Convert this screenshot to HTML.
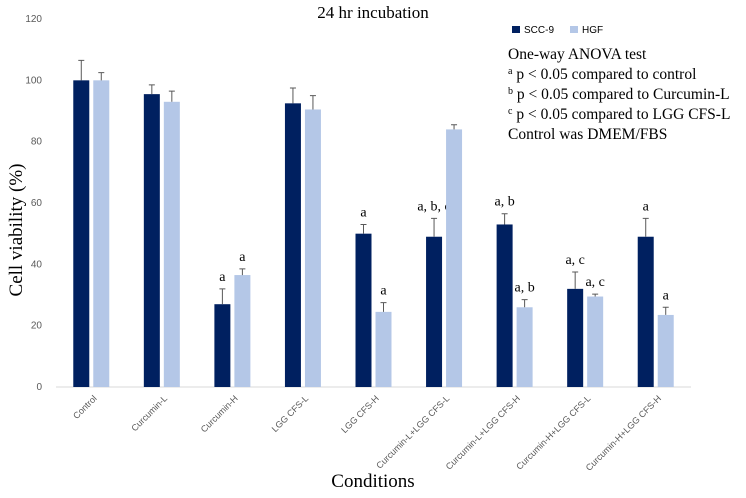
<!DOCTYPE html>
<html><head><meta charset="utf-8"><style>
body{margin:0;background:#fff;}
svg text{font-family:"Liberation Serif",serif;}
.s{font-family:"Liberation Sans",sans-serif;}
</style></head><body>
<svg id="c" width="746" height="493">
<text x="373" y="18" text-anchor="middle" font-size="17">24 hr incubation</text>
<rect x="512" y="26" width="8" height="7" fill="#002060"/>
<text x="524" y="33" font-size="10" class="s">SCC-9</text>
<rect x="570" y="26" width="8" height="7" fill="#b4c7e7"/>
<text x="582" y="33" font-size="10" class="s">HGF</text>
<g font-size="15.5">
<text x="508" y="59">One-way ANOVA test</text>
<text x="508" y="79"><tspan font-size="10" dy="-5">a</tspan><tspan dy="5"> p &lt; 0.05 compared to control</tspan></text>
<text x="508" y="99"><tspan font-size="10" dy="-5">b</tspan><tspan dy="5"> p &lt; 0.05 compared to Curcumin-L</tspan></text>
<text x="508" y="119"><tspan font-size="10" dy="-5">c</tspan><tspan dy="5"> p &lt; 0.05 compared to LGG CFS-L</tspan></text>
<text x="508" y="139">Control was DMEM/FBS</text>
</g>
<text transform="translate(22,230) rotate(-90)" text-anchor="middle" font-size="19">Cell viability (%)</text>
<text x="373" y="487" text-anchor="middle" font-size="19">Conditions</text>
</svg>
<script>
const categories=["Control","Curcumin-L","Curcumin-H","LGG CFS-L","LGG CFS-H","Curcumin-L+LGG CFS-L","Curcumin-L+LGG CFS-H","Curcumin-H+LGG CFS-L","Curcumin-H+LGG CFS-H"];
const scc9=[100,95.5,27,92.5,50,49,53,32,49];
const scc9Err=[6.5,3,5,5,3,6,3.5,5.5,6];
const hgf=[100,93,36.5,90.5,24.5,84,26,29.5,23.5];
const hgfErr=[2.5,3.5,2,4.5,3,1.5,2.5,0.8,2.5];
const scc9Sig=["","","a","","a","a, b, c","a, b","a, c","a"];
const hgfSig=["","","a","","a","","a, b","a, c","a"];
const yTicks=[0,20,40,60,80,100,120];
const svg=document.getElementById('c');const NS='http://www.w3.org/2000/svg';
const x0=56,x1=691,y0=387,y120=19;
const Y=v=>y0-(v/120)*(y0-y120);
const bw=(x1-x0)/categories.length;
const cx=i=>x0+bw*(i+0.5);
function mk(t,a){const e=document.createElementNS(NS,t);for(const k in a)e.setAttribute(k,a[k]);svg.appendChild(e);return e;}
yTicks.forEach(v=>{const t=mk('text',{x:42,y:Y(v)+3,'text-anchor':'end','font-size':10,fill:'#595959',class:'s'});t.textContent=v;

});
const ax=mk('line',{x1:x0,x2:x1,y1:y0,y2:y0,stroke:'#d9d9d9','stroke-width':1});


function bar(i,v,e,sig,left,col,nm){
const x=left?cx(i)-18:cx(i)+2;
const r=mk('rect',{x:x,y:Y(v),width:16,height:y0-Y(v),fill:col});


const m=x+8;
const l=mk('path',{d:`M${m},${Y(v)}V${Y(v+e)}M${m-3},${Y(v+e)}H${m+3}`,stroke:'#595959','stroke-width':1,fill:'none'});


if(sig){const t=mk('text',{x:m,y:Y(v+e)-8,'text-anchor':'middle','font-size':14});t.textContent=sig;

}
}
categories.forEach((c,i)=>{
bar(i,scc9[i],scc9Err[i],scc9Sig[i],true,'#002060','scc9');
bar(i,hgf[i],hgfErr[i],hgfSig[i],false,'#b4c7e7','hgf');
const t=mk('text',{transform:`translate(${cx(i)+6},${y0+12}) rotate(-45)`,'text-anchor':'end','font-size':9,fill:'#595959',class:'s'});t.textContent=c;


});
</script>
</body></html>
